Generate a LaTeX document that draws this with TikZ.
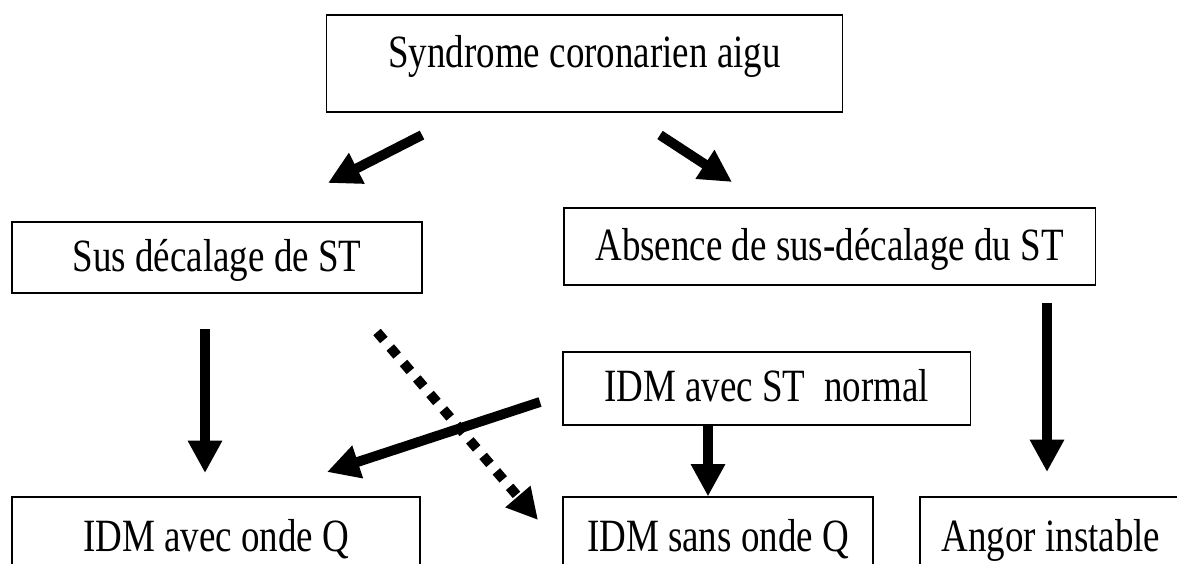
\documentclass[tikz,border=0pt]{standalone}
\usepackage{fontspec}
\setmainfont{Liberation Serif}
\usetikzlibrary{arrows.meta,positioning,calc}

% scanned text is a little taller than Times
\newcommand{\tall}[1]{\scalebox{1}[1.25]{#1}}

\tikzset{
    box/.style={draw, line width=0.8pt, inner sep=0pt, text depth=0pt, font=\fontsize{26.3pt}{30pt}\selectfont},
    bigarrow/.style={line width=7pt, -{Triangle[length=23pt, width=23pt]}},
    dotarrow/.style={line width=7pt, dash pattern=on 7.5pt off 7pt, -{Triangle[length=22pt, width=22pt]}}
}

\begin{document}
\begin{tikzpicture}[x=0.025cm, y=-0.025cm]
    \useasboundingbox (0,0) rectangle (1177,564);
    \clip (0,0) rectangle (1177,564);

    % Boxes
    \node[box, minimum width=12.9cm, minimum height=2.425cm, text height=0.225cm] (sca) at (584.5,63.5) {\tall{Syndrome coronarien aigu}};
    \node[box, minimum width=10.25cm, minimum height=1.775cm, text height=0.675cm] (sus) at (217,257.5) {\tall{Sus décalage de ST}};
    \node[box, minimum width=13.275cm, minimum height=1.925cm, text height=0.675cm] (absence) at (829.5,246.5) {\tall{Absence de sus-décalage du ST}};
    \node[box, minimum width=10.175cm, minimum height=1.825cm, text height=0.625cm] (normal) at (766.5,388.5) {\tall{IDM avec ST\ \ normal}};
    \node[box, minimum width=10.2cm, minimum height=2.575cm, text height=0.15cm] (avecq) at (216,548.5) {\tall{IDM avec onde Q}};
    \node[box, minimum width=7.75cm, minimum height=2.575cm, text height=0.15cm] (sansq) at (718,548.5) {\tall{IDM sans onde Q}};
    \node[box, minimum width=6.55cm, minimum height=2.575cm, text height=0.15cm] (angor) at (1051,548.5) {\tall{Angor instable}};

    % Arrow ends
    \coordinate (a1) at (422,135);  \coordinate (b1) at (328,183);
    \coordinate (a2) at (660,135);  \coordinate (b2) at (732,182);
    \coordinate (a3) at (205,329);  \coordinate (b3) at (205,473);
    \coordinate (a4) at (377,332);  \coordinate (b4) at (538,520);
    \coordinate (a5) at (540,402);  \coordinate (b5) at (327,472);
    \coordinate (a6) at (1047,303); \coordinate (b6) at (1047,472);

    % Connectors
    \draw[bigarrow] (a1) -- (b1);
    \draw[bigarrow] (a2) -- (b2);
    \draw[bigarrow] (a3) -- (b3);
    \draw[dotarrow] (a4) -- (b4);
    \draw[bigarrow] (a5) -- (b5);
    \draw[bigarrow] (normal.south -| 708,0) -- (sansq.north -| 708,0);
    \draw[bigarrow] (a6) -- (b6);
\end{tikzpicture}
\end{document}
